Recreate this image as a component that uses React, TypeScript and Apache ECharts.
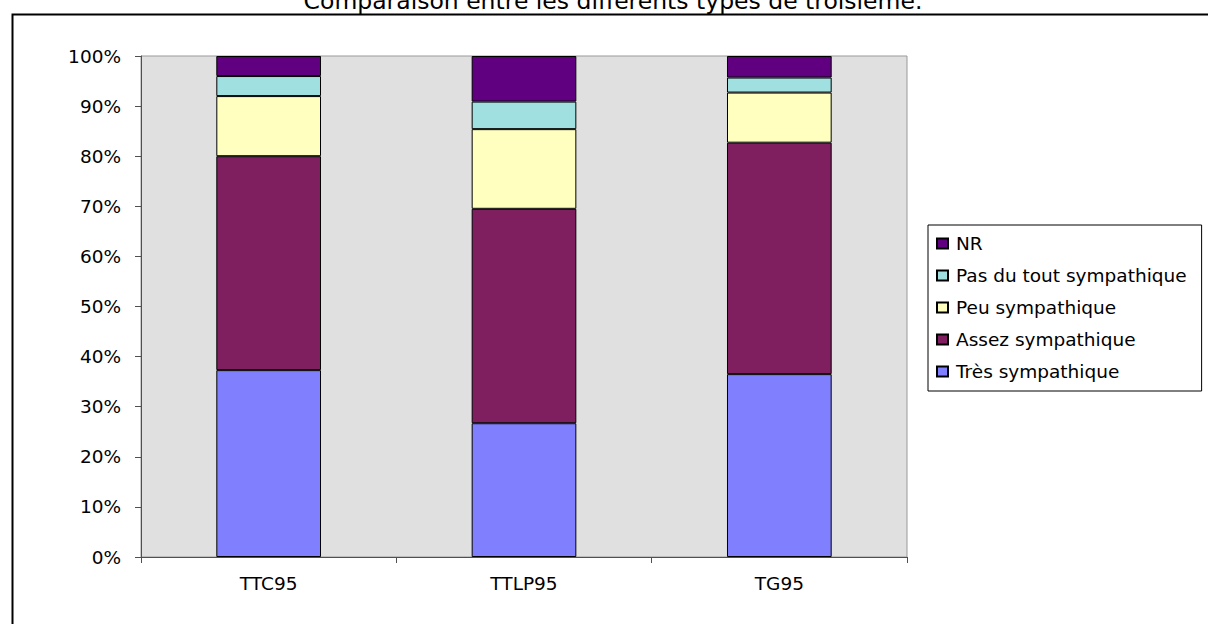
import React, { useEffect, useRef } from "react";
import * as echarts from "echarts";

const categories = ["TTC95", "TTLP95", "TG95"];
const tresSympathique = [37.3, 26.7, 36.5];
const assezSympathique = [42.7, 42.8, 46.2];
const peuSympathique = [12.0, 15.9, 10.0];
const pasDuToutSympathique = [4.0, 5.5, 3.0];
const nonRepondu = [4.0, 9.1, 4.3];
const seriesNames = [
  "Très sympathique",
  "Assez sympathique",
  "Peu sympathique",
  "Pas du tout sympathique",
  "NR",
];
const seriesColors = ["#8080FF", "#7F1F5F", "#FFFFC0", "#A0E0E0", "#600080"];
const titleText = "Comparaison entre les différents types de troisième.";

const FONT = "DejaVu Sans, Verdana, sans-serif";

export default function App() {
  const ref = useRef<HTMLDivElement>(null);
  useEffect(() => {
    if (!ref.current) return;
    const chart = echarts.init(ref.current, null, { renderer: "svg" });
    const values = [
      tresSympathique,
      assezSympathique,
      peuSympathique,
      pasDuToutSympathique,
      nonRepondu,
    ];
    chart.setOption({
      animation: false,
      backgroundColor: "#FFFFFF",
      textStyle: { fontFamily: FONT },
      graphic: [
        {
          type: "rect",
          left: 10,
          top: 12,
          shape: { x: 0, y: 0, width: 1300, height: 700 },
          style: { fill: "none", stroke: "#000", lineWidth: 2 },
          silent: true,
        },
        {
          type: "text",
          x: 613,
          y: 13,
          style: {
            text: titleText,
            fontFamily: FONT,
            fontSize: 23.5,
            fill: "#000",
            align: "center",
            verticalAlign: "bottom",
          },
        },
      ],
      grid: {
        left: 141,
        top: 56,
        right: 301,
        bottom: 67,
        show: true,
        backgroundColor: "#E0E0E0",
        borderColor: "#999999",
        borderWidth: 1,
      },
      legend: {
        orient: "vertical",
        left: 928,
        top: 225,
        data: seriesNames.slice().reverse(),
        icon: "rect",
        itemWidth: 11,
        itemHeight: 10,
        itemGap: 13,
        padding: [9, 15, 10, 8],
        borderColor: "#000",
        borderWidth: 1,
        backgroundColor: "#FFFFFF",
        textStyle: {
          fontFamily: FONT,
          fontSize: 18.5,
          color: "#000",
          padding: [0, 0, 0, 3],
        },
      },
      xAxis: {
        type: "category",
        data: categories,
        axisLine: { lineStyle: { color: "#505050", width: 1 } },
        axisTick: { show: true, length: 6, lineStyle: { color: "#505050" } },
        axisLabel: { fontFamily: FONT, fontSize: 18.5, color: "#000", margin: 17 },
      },
      yAxis: {
        type: "value",
        min: 0,
        max: 100,
        interval: 10,
        axisLine: { show: true, lineStyle: { color: "#505050", width: 1 } },
        axisTick: { show: true, length: 6, lineStyle: { color: "#505050" } },
        splitLine: { show: false },
        axisLabel: {
          fontFamily: FONT,
          fontSize: 18.5,
          color: "#000",
          margin: 20,
          formatter: "{value}%",
        },
      },
      series: seriesNames.map((name, i) => ({
        name,
        type: "bar",
        stack: "total",
        data: values[i],
        barCategoryGap: "59%",
        itemStyle: {
          color: seriesColors[i],
          borderColor: "#000",
          borderWidth: 1,
        },
      })),
    });
    return () => chart.dispose();
  }, []);
  return (
    <div
      ref={ref}
      style={{ position: "fixed", left: 0, top: 0, width: 1208, height: 624 }}
    />
  );
}
